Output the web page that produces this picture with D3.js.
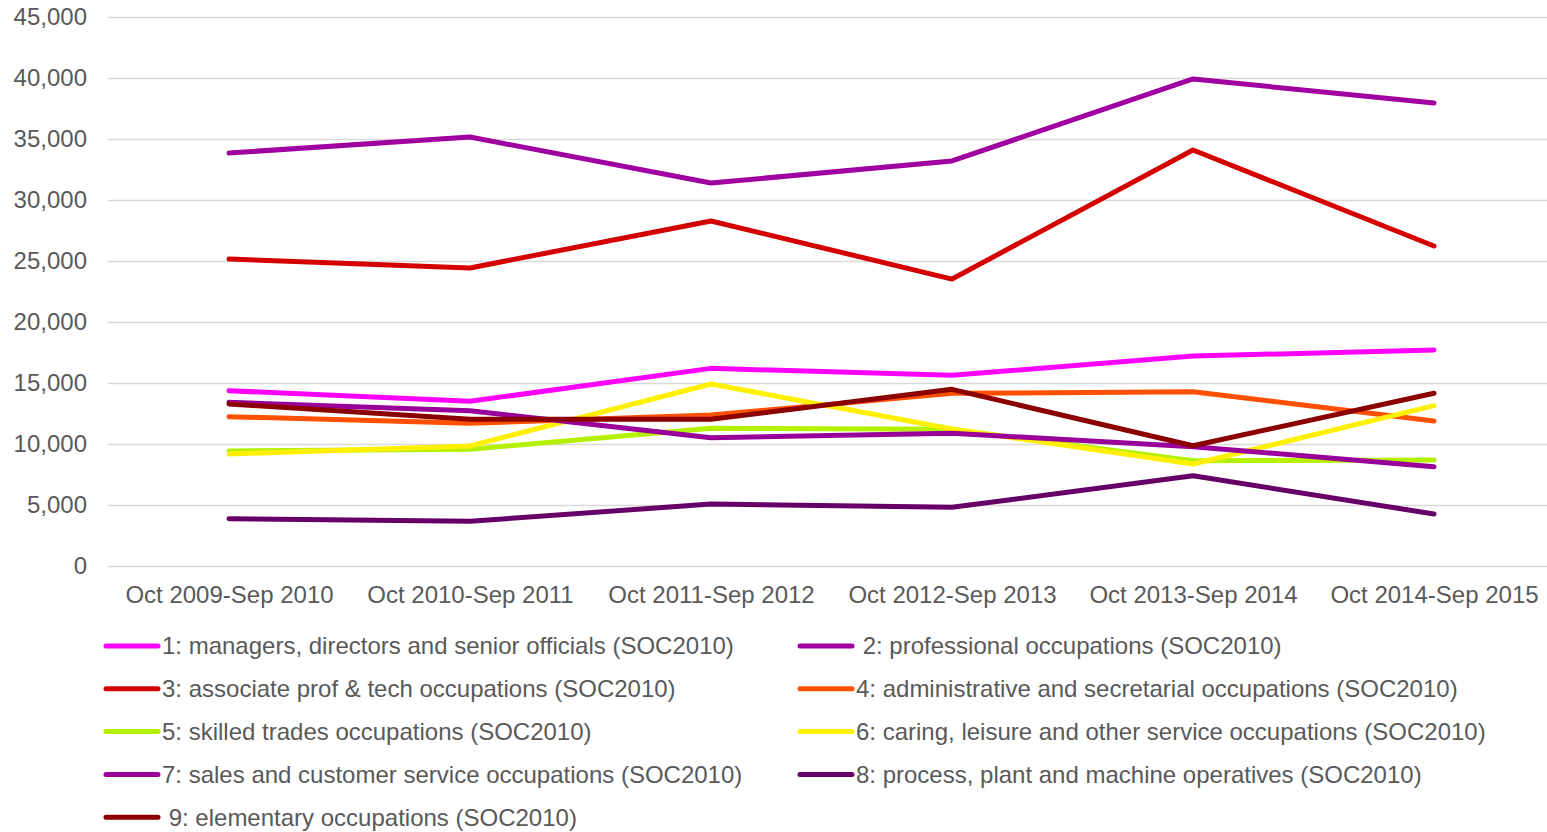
<!DOCTYPE html>
<html>
<head>
<meta charset="utf-8">
<script src="https://cdn.jsdelivr.net/npm/d3@7"></script>
<style>
  body { margin: 0; background: #fff; }
  text { font-family: "Liberation Sans", Arial, sans-serif; fill: #595959; }
</style>
</head>
<body>
<div class="viz"></div>
<script>
var width = 1547,
    height = 832;

var periods = ['Oct 2009-Sep 2010', 'Oct 2010-Sep 2011', 'Oct 2011-Sep 2012',
               'Oct 2012-Sep 2013', 'Oct 2013-Sep 2014', 'Oct 2014-Sep 2015'];

var names = [
  '1: managers, directors and senior officials (SOC2010)',
  ' 2: professional occupations (SOC2010)',
  '3: associate prof & tech occupations (SOC2010)',
  '4: administrative and secretarial occupations (SOC2010)',
  '5: skilled trades occupations (SOC2010)',
  '6: caring, leisure and other service occupations (SOC2010)',
  '7: sales and customer service occupations (SOC2010)',
  '8: process, plant and machine operatives (SOC2010)',
  ' 9: elementary occupations (SOC2010)'
];

var colors = ['#ff00ff', '#a000a0', '#d40000', '#ff5000', '#b4f000',
              '#fff000', '#990099', '#660066', '#8b0000'];

var soc1 = [14370, 13500, 16200, 15630, 17210, 17700];
var soc2 = [33850, 35160, 31390, 33200, 39920, 37950];
var soc3 = [25160, 24430, 28280, 23520, 34100, 26230];
var soc4 = [12240, 11700, 12380, 14150, 14290, 11890];
var soc5 = [9430, 9570, 11290, 11200, 8630, 8690];
var soc6 = [9180, 9840, 14920, 11230, 8360, 13140];
var soc7 = [13420, 12730, 10520, 10880, 9780, 8140];
var soc8 = [3880, 3660, 5080, 4810, 7400, 4260];
var soc9 = [13280, 12030, 12030, 14480, 9860, 14160];

var yTicks = [0, 5000, 10000, 15000, 20000, 25000, 30000, 35000, 40000, 45000];

var series = [soc1, soc2, soc3, soc4, soc5, soc6, soc7, soc8, soc9].map(function(v, i){
  return {name: names[i], color: colors[i], values: v};
});

var svg = d3.select('.viz').append('svg')
  .attr('width', width)
  .attr('height', height);

var x = d3.scalePoint()
  .domain(periods)
  .range([229, 1434]);

var y = d3.scaleLinear()
  .domain([0, 45000])
  .range([566, 17]);

// gridlines
svg.append('g')
  .selectAll('line')
  .data(yTicks)
  .enter()
  .append('line')
  .attr('x1', 108)
  .attr('x2', width)
  .attr('y1', function(d){ return Math.round(y(d)) + 0.5; })
  .attr('y2', function(d){ return Math.round(y(d)) + 0.5; })
  .attr('stroke', '#d9d9d9')
  .attr('stroke-width', 1.5);

var yAxis = d3.axisLeft(y)
  .tickValues(yTicks)
  .tickFormat(d3.format(','))
  .tickSize(0)
  .tickPadding(0);

svg.append('g')
  .attr('transform', 'translate(87,0)')
  .call(yAxis)
  .call(function(g){ g.select('.domain').remove(); })
  .selectAll('text')
  .style('font-size', '24px')
  .attr('fill', '#595959');

var xAxis = d3.axisBottom(x)
  .tickSize(0)
  .tickPadding(0);

svg.append('g')
  .attr('transform', 'translate(0,586)')
  .call(xAxis)
  .call(function(g){ g.select('.domain').remove(); })
  .selectAll('text')
  .style('font-size', '24px')
  .attr('fill', '#595959');

var line = d3.line()
  .x(function(d, i){ return x(periods[i]); })
  .y(function(d){ return y(d); });

svg.append('g')
  .selectAll('path')
  .data(series)
  .enter()
  .append('path')
  .attr('d', function(d){ return line(d.values); })
  .attr('fill', 'none')
  .attr('stroke', function(d){ return d.color; })
  .attr('stroke-width', 5)
  .attr('stroke-linecap', 'round')
  .attr('stroke-linejoin', 'round');

/* legend */
var legend = svg.append('g')
  .selectAll('g')
  .data(series)
  .enter()
  .append('g')
  .attr('transform', function(d, i){
    var col = i % 2, row = Math.floor(i / 2);
    return 'translate(' + (col ? 798 : 104) + ',' + (646 + row * 42.8) + ')';
  });

legend.append('line')
  .attr('x1', 2)
  .attr('x2', 54)
  .attr('stroke', function(d){ return d.color; })
  .attr('stroke-width', 5)
  .attr('stroke-linecap', 'round');

legend.append('text')
  .attr('x', 58)
  .attr('dy', '0.35em')
  .style('font-size', '24px')
  .style('white-space', 'pre')
  .attr('xml:space', 'preserve')
  .text(function(d){ return d.name; });
</script>
</body>
</html>
